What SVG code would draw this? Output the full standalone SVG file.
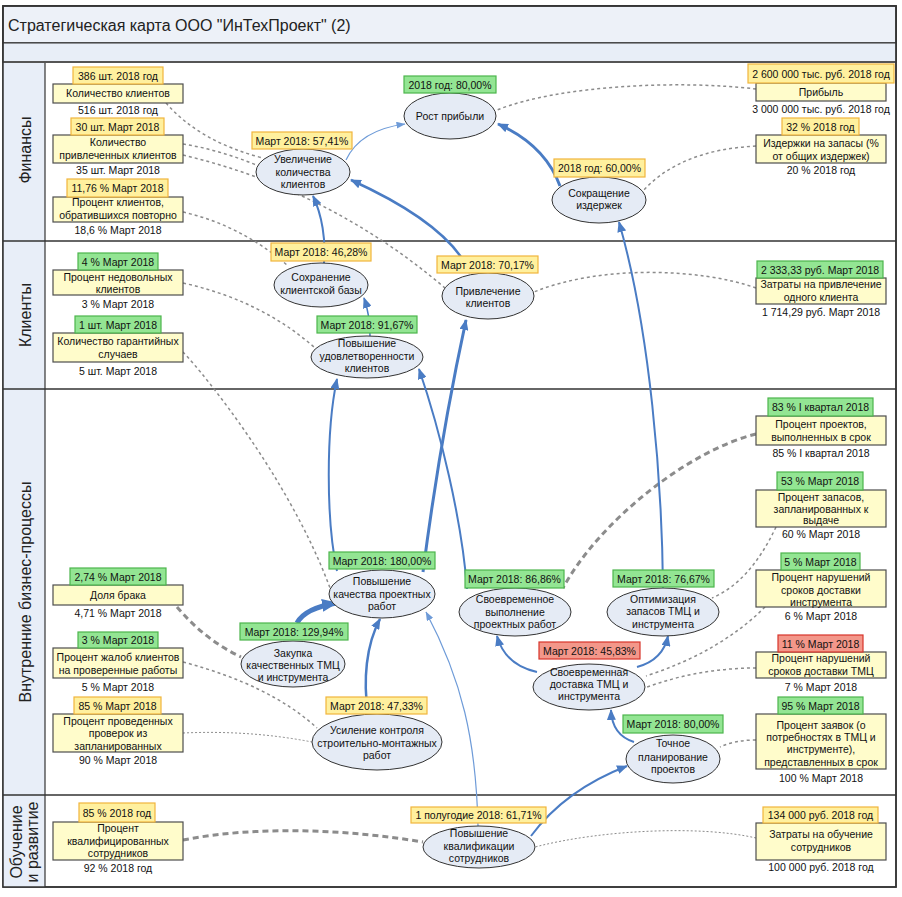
<svg xmlns="http://www.w3.org/2000/svg" width="902" height="897" viewBox="0 0 902 897">
<style>
text{font-family:"Liberation Sans",Arial,sans-serif;fill:#111}
.t{font-size:10.5px;text-anchor:middle}
.lane{font-size:16px;text-anchor:middle;fill:#222}
.el{fill:#E5EBF5;stroke:#333;stroke-width:1}
.box{fill:#FFFCCB;stroke:#4D4D4D;stroke-width:1.2}
.ty{fill:#FFF09E;stroke:#F0B53C;stroke-width:1.2}
.tg{fill:#93E593;stroke:#4CB54C;stroke-width:1.2}
.tr{fill:#F3978A;stroke:#D7352B;stroke-width:1.2}
.ar{fill:none;stroke:#4A7CC4}
.dl{fill:none;stroke:#8C8C8C;stroke-width:1.5;stroke-dasharray:3 3}
.dt{fill:none;stroke:#8C8C8C;stroke-width:3;stroke-dasharray:6 4}
.df{fill:none;stroke:#8C8C8C;stroke-width:1;stroke-dasharray:2 2}
</style>
<defs>
<marker id="a" markerUnits="userSpaceOnUse" viewBox="0 0 11 9" markerWidth="11" markerHeight="9" refX="10" refY="4.5" orient="auto"><path d="M0,0 L11,4.5 L0,9 z" fill="#4A7CC4"/></marker>
<marker id="aS" markerUnits="userSpaceOnUse" viewBox="0 0 9 7" markerWidth="9" markerHeight="7" refX="8.5" refY="3.5" orient="auto"><path d="M0,0 L9,3.5 L0,7 z" fill="#6E9BD8"/></marker>
<marker id="aL" markerUnits="userSpaceOnUse" viewBox="0 0 16 13" markerWidth="16" markerHeight="13" refX="15" refY="6.5" orient="auto"><path d="M0,0 L16,6.5 L0,13 z" fill="#4A7CC4"/></marker>
</defs>

<g id="frame">
<rect x="3" y="6" width="893" height="881" fill="#fff" stroke="#333" stroke-width="1.5"/>
<rect x="3" y="6" width="893" height="37" fill="#EDF1F8" stroke="#333" stroke-width="1.5"/>
<rect x="3" y="43" width="893" height="19" fill="#E8EEF7" stroke="#333" stroke-width="1"/>
<rect x="3" y="62" width="42" height="825" fill="#E8EEF8"/>
<line x1="45" y1="62" x2="45" y2="887" stroke="#333" stroke-width="1.2"/>
<line x1="3" y1="62" x2="896" y2="62" stroke="#555" stroke-width="2"/>
<line x1="3" y1="241" x2="896" y2="241" stroke="#333" stroke-width="1.5"/>
<line x1="3" y1="389" x2="896" y2="389" stroke="#333" stroke-width="1.5"/>
<line x1="3" y1="795" x2="896" y2="795" stroke="#333" stroke-width="1.5"/>
<rect x="3" y="6" width="893" height="881" fill="none" stroke="#333" stroke-width="1.5"/>
<text x="8" y="31" style="font-size:16px;fill:#222">Стратегическая карта ООО "ИнТехПроект" (2)</text>
<text class="lane" transform="translate(31,150) rotate(-90)">Финансы</text>
<text class="lane" transform="translate(31,315) rotate(-90)">Клиенты</text>
<text class="lane" transform="translate(31,592) rotate(-90)">Внутренние бизнес-процессы</text>
<text class="lane" transform="translate(22,842) rotate(-90)">Обучение</text>
<text class="lane" transform="translate(38,842) rotate(-90)">и развитие</text>
</g>

<g id="connectors">
<path class="dl" d="M166,103 Q200,142 263,158"/>
<path class="dl" d="M183,144 Q220,150 256,165"/>
<path class="dl" d="M183,155 Q330,190 445,288"/>
<path class="dl" d="M183,212 Q240,225 287,265"/>
<path class="dl" d="M183,283 Q260,300 314,347"/>
<path class="dl" d="M183,352 C205,375 290,480 330,588"/>
<path class="dt" d="M177,607 Q205,640 241,657"/>
<path class="dl" d="M183,662 Q270,685 317,728"/>
<path class="df" d="M183,733 Q250,730 312,742"/>
<path class="dl" d="M756,89 C680,80 560,85 497,110"/>
<path class="dl" d="M756,146 Q680,150 643,191"/>
<path class="dl" d="M756,288 C700,268 600,265 534,292"/>
<path class="dt" d="M756,434 C690,450 600,520 563,588"/>
<path class="dl" d="M776,527 Q750,582 712,598"/>
<path class="dl" d="M765,607 Q720,652 646,676"/>
<path class="dl" d="M756,668 Q700,668 647,687"/>
<path class="dl" d="M756,740 Q735,740 720,747"/>
<path class="dt" d="M183,840 C260,825 350,830 423,842"/>
<path class="df" d="M756,838 C700,825 600,830 535,847"/>

<path class="ar" style="stroke:#6E9BD8;stroke-width:1.2" marker-end="url(#aS)" d="M346,160 Q360,130 405,124"/>
<path class="ar" stroke-width="3" marker-end="url(#a)" d="M560,186 Q545,145 498,124"/>
<path class="ar" stroke-width="2" marker-end="url(#a)" d="M324,263 C326,240 322,215 313,196"/>
<path class="ar" stroke-width="2.5" marker-end="url(#a)" d="M470,273 Q450,225 351,180"/>
<path class="ar" stroke-width="1.5" marker-end="url(#a)" d="M370,336 Q370,315 364,298"/>
<path class="ar" stroke-width="2" marker-end="url(#a)" d="M337,571 C326,520 326,430 337,379"/>
<path class="ar" stroke-width="3" marker-end="url(#a)" d="M423,572 Q440,440 466,320"/>
<path class="ar" stroke-width="2" marker-end="url(#a)" d="M467,589 C462,520 440,430 419,369"/>
<path class="ar" stroke-width="2" marker-end="url(#a)" d="M663,588 C662,480 650,330 619,222"/>
<path class="ar" stroke-width="5" marker-end="url(#aL)" d="M297,623 Q305,608 337,603"/>
<path class="ar" stroke-width="2.5" marker-end="url(#a)" d="M368,714 C363,680 366,645 380,619"/>
<path class="ar" style="stroke:#6E9BD8;stroke-width:1.2" marker-end="url(#aS)" d="M478,826 C476,740 462,680 426,612"/>
<path class="ar" stroke-width="2" marker-end="url(#a)" d="M531,836 Q565,790 627,766"/>
<path class="ar" stroke-width="2" marker-end="url(#a)" d="M634,742 Q612,735 611,710"/>
<path class="ar" stroke-width="2" marker-end="url(#a)" d="M537,672 Q505,665 497,636"/>
<path class="ar" stroke-width="2" marker-end="url(#a)" d="M637,667 Q663,660 668,636"/>
</g>

<g id="n-rost">
<ellipse class="el" cx="450" cy="116" rx="46" ry="23"/>
<text class="t" x="450" y="120">Рост прибыли</text>
<rect class="tg" x="404" y="76" width="92" height="17"/>
<text class="t" x="450" y="88.5">2018 год: 80,00%</text>
</g>
<g id="n-uvel">
<ellipse class="el" cx="303" cy="172" rx="47" ry="23"/>
<text class="t" x="303" y="163">Увеличение</text>
<text class="t" x="303" y="176">количества</text>
<text class="t" x="303" y="188">клиентов</text>
<rect class="ty" x="252" y="132" width="100" height="17"/>
<text class="t" x="302" y="144.5">Март 2018: 57,41%</text>
</g>
<g id="n-sokr">
<ellipse class="el" cx="599" cy="200" rx="47" ry="23"/>
<text class="t" x="599" y="197">Сокращение</text>
<text class="t" x="599" y="209">издержек</text>
<rect class="ty" x="554" y="159" width="91" height="18"/>
<text class="t" x="599.5" y="172">2018 год: 60,00%</text>
</g>
<g id="n-sohr">
<ellipse class="el" cx="321" cy="285" rx="47" ry="22"/>
<text class="t" x="321" y="281">Сохранение</text>
<text class="t" x="321" y="294">клиентской базы</text>
<rect class="ty" x="271" y="243" width="100" height="18"/>
<text class="t" x="321" y="256">Март 2018: 46,28%</text>
</g>
<g id="n-privl">
<ellipse class="el" cx="488" cy="296" rx="46" ry="23"/>
<text class="t" x="488" y="295">Привлечение</text>
<text class="t" x="488" y="307">клиентов</text>
<rect class="ty" x="437" y="256" width="101" height="17"/>
<text class="t" x="487.5" y="268.5">Март 2018: 70,17%</text>
</g>
<g id="n-udovl">
<ellipse class="el" cx="367" cy="357" rx="56" ry="21"/>
<text class="t" x="367" y="347">Повышение</text>
<text class="t" x="367" y="360">удовлетворенности</text>
<text class="t" x="367" y="372">клиентов</text>
<rect class="tg" x="317" y="316" width="100" height="17"/>
<text class="t" x="367" y="328.5">Март 2018: 91,67%</text>
</g>
<g id="n-kach">
<ellipse class="el" cx="382" cy="594" rx="53" ry="24"/>
<text class="t" x="382" y="585">Повышение</text>
<text class="t" x="382" y="598">качества проектных</text>
<text class="t" x="382" y="610">работ</text>
<rect class="tg" x="329" y="552" width="106" height="17"/>
<text class="t" x="382" y="564.5">Март 2018: 180,00%</text>
</g>
<g id="n-zak">
<ellipse class="el" cx="293" cy="664" rx="52" ry="23"/>
<text class="t" x="293" y="657">Закупка</text>
<text class="t" x="293" y="669">качественных ТМЦ</text>
<text class="t" x="293" y="681">и инструмента</text>
<rect class="tg" x="240" y="623" width="108" height="17"/>
<text class="t" x="294" y="635.5">Март 2018: 129,94%</text>
</g>
<g id="n-usil">
<ellipse class="el" cx="377" cy="742" rx="65" ry="28"/>
<text class="t" x="377" y="734">Усиление контроля</text>
<text class="t" x="377" y="747">строительно-монтажных</text>
<text class="t" x="377" y="759">работ</text>
<rect class="ty" x="326" y="697" width="101" height="17"/>
<text class="t" x="376.5" y="709.5">Март 2018: 47,33%</text>
</g>
<g id="n-svoevyp">
<ellipse class="el" cx="515" cy="612" rx="56" ry="24"/>
<text class="t" x="515" y="603">Своевременное</text>
<text class="t" x="515" y="616">выполнение</text>
<text class="t" x="515" y="628">проектных работ</text>
<rect class="tg" x="465" y="570" width="99" height="18"/>
<text class="t" x="514.5" y="583">Март 2018: 86,86%</text>
</g>
<g id="n-optim">
<ellipse class="el" cx="663" cy="612" rx="56" ry="24"/>
<text class="t" x="663" y="603">Оптимизация</text>
<text class="t" x="663" y="615">запасов ТМЦ и</text>
<text class="t" x="663" y="628">инструмента</text>
<rect class="tg" x="613" y="570" width="101" height="17"/>
<text class="t" x="663.5" y="582.5">Март 2018: 76,67%</text>
</g>
<g id="n-dost">
<ellipse class="el" cx="589" cy="687" rx="56" ry="23"/>
<text class="t" x="589" y="676">Своевременная</text>
<text class="t" x="589" y="688">доставка ТМЦ и</text>
<text class="t" x="589" y="700">инструмента</text>
<rect class="tr" x="539" y="642" width="101" height="17"/>
<text class="t" x="589.5" y="654.5">Март 2018: 45,83%</text>
</g>
<g id="n-tochn">
<ellipse class="el" cx="673" cy="759" rx="47" ry="24"/>
<text class="t" x="673" y="747">Точное</text>
<text class="t" x="673" y="761">планирование</text>
<text class="t" x="673" y="773">проектов</text>
<rect class="tg" x="623" y="715" width="100" height="18"/>
<text class="t" x="673" y="728">Март 2018: 80,00%</text>
</g>
<g id="n-kval">
<ellipse class="el" cx="479" cy="847" rx="56" ry="21"/>
<text class="t" x="479" y="837">Повышение</text>
<text class="t" x="479" y="850">квалификации</text>
<text class="t" x="479" y="862">сотрудников</text>
<rect class="ty" x="411" y="807" width="135" height="16"/>
<text class="t" x="478.5" y="819">1 полугодие 2018: 61,71%</text>
</g>

<g id="i-kolkl">
<rect class="box" x="53" y="84" width="130" height="19"/>
<text class="t" x="118" y="97">Количество клиентов</text>
<rect class="ty" x="73" y="67" width="90" height="17"/>
<text class="t" x="118" y="79.5">386 шт. 2018 год</text>
<text class="t" x="118" y="114">516 шт. 2018 год</text>
</g>
<g id="i-privl">
<rect class="box" x="53" y="135" width="130" height="28"/>
<text class="t" x="118" y="146">Количество</text>
<text class="t" x="118" y="159">привлеченных клиентов</text>
<rect class="ty" x="71" y="118" width="93" height="17"/>
<text class="t" x="117.5" y="130.5">30 шт. Март 2018</text>
<text class="t" x="118" y="174">35 шт. Март 2018</text>
</g>
<g id="i-povt">
<rect class="box" x="53" y="197" width="130" height="25"/>
<text class="t" x="118" y="206">Процент клиентов,</text>
<text class="t" x="118" y="219">обратившихся повторно</text>
<rect class="ty" x="67" y="179" width="101" height="18"/>
<text class="t" x="117.5" y="192">11,76 % Март 2018</text>
<text class="t" x="118" y="234">18,6 % Март 2018</text>
</g>
<g id="i-nedov">
<rect class="box" x="53" y="270" width="130" height="25"/>
<text class="t" x="118" y="281">Процент недовольных</text>
<text class="t" x="118" y="293">клиентов</text>
<rect class="tg" x="78" y="253" width="80" height="17"/>
<text class="t" x="118" y="265.5">4 % Март 2018</text>
<text class="t" x="118" y="308">3 % Март 2018</text>
</g>
<g id="i-garant">
<rect class="box" x="53" y="333" width="130" height="29"/>
<text class="t" x="118" y="345">Количество гарантийных</text>
<text class="t" x="118" y="358">случаев</text>
<rect class="tg" x="75" y="316" width="86" height="17"/>
<text class="t" x="118" y="328.5">1 шт. Март 2018</text>
<text class="t" x="118" y="375">5 шт. Март 2018</text>
</g>
<g id="i-brak">
<rect class="box" x="53" y="585" width="130" height="20"/>
<text class="t" x="118" y="599">Доля брака</text>
<rect class="tg" x="70" y="568" width="96" height="17"/>
<text class="t" x="118" y="580.5">2,74 % Март 2018</text>
<text class="t" x="118" y="617">4,71 % Март 2018</text>
</g>
<g id="i-zhalob">
<rect class="box" x="53" y="648" width="130" height="30"/>
<text class="t" x="118" y="661">Процент жалоб клиентов</text>
<text class="t" x="118" y="674">на проверенные работы</text>
<rect class="tg" x="78" y="632" width="80" height="16"/>
<text class="t" x="118" y="644">3 % Март 2018</text>
<text class="t" x="118" y="691">5 % Март 2018</text>
</g>
<g id="i-prov">
<rect class="box" x="53" y="714" width="130" height="38"/>
<text class="t" x="118" y="725">Процент проведенных</text>
<text class="t" x="118" y="737">проверок из</text>
<text class="t" x="118" y="750">запланированных</text>
<rect class="ty" x="74" y="697" width="87" height="17"/>
<text class="t" x="117.5" y="709.5">85 % Март 2018</text>
<text class="t" x="118" y="764">90 % Март 2018</text>
</g>
<g id="i-kvalif">
<rect class="box" x="53" y="822" width="130" height="38"/>
<text class="t" x="118" y="832">Процент</text>
<text class="t" x="118" y="845">квалифицированных</text>
<text class="t" x="118" y="857">сотрудников</text>
<rect class="ty" x="79" y="803" width="76" height="19"/>
<text class="t" x="117" y="816.5">85 % 2018 год</text>
<text class="t" x="118" y="872">92 % 2018 год</text>
</g>
<g id="i-pribyl">
<rect class="box" x="756" y="83" width="130" height="18"/>
<text class="t" x="821" y="96">Прибыль</text>
<rect class="ty" x="748" y="64" width="146" height="19"/>
<text class="t" x="821" y="77.5">2 600 000 тыс. руб. 2018 год</text>
<text class="t" x="821" y="113">3 000 000 тыс. руб. 2018 год</text>
</g>
<g id="i-izd">
<rect class="box" x="756" y="135" width="130" height="28"/>
<text class="t" x="821" y="147">Издержки на запасы (%</text>
<text class="t" x="821" y="160">от общих издержек)</text>
<rect class="ty" x="782" y="118" width="77" height="17"/>
<text class="t" x="820.5" y="130.5">32 % 2018 год</text>
<text class="t" x="821" y="174">20 % 2018 год</text>
</g>
<g id="i-zatr">
<rect class="box" x="756" y="278" width="130" height="26"/>
<text class="t" x="821" y="288">Затраты на привлечение</text>
<text class="t" x="821" y="301">одного клиента</text>
<rect class="tg" x="757" y="261" width="126" height="17"/>
<text class="t" x="820" y="273.5">2 333,33 руб. Март 2018</text>
<text class="t" x="821" y="316">1 714,29 руб. Март 2018</text>
</g>
<g id="i-srok">
<rect class="box" x="756" y="416" width="130" height="29"/>
<text class="t" x="821" y="428">Процент проектов,</text>
<text class="t" x="821" y="441">выполненных в срок</text>
<rect class="tg" x="768" y="398" width="105" height="18"/>
<text class="t" x="820.5" y="411">83 % I квартал 2018</text>
<text class="t" x="821" y="457">85 % I квартал 2018</text>
</g>
<g id="i-zapas">
<rect class="box" x="756" y="490" width="130" height="37"/>
<text class="t" x="821" y="501">Процент запасов,</text>
<text class="t" x="821" y="513">запланированных к</text>
<text class="t" x="821" y="524">выдаче</text>
<rect class="tg" x="777" y="472" width="86" height="18"/>
<text class="t" x="820" y="485">53 % Март 2018</text>
<text class="t" x="821" y="538">60 % Март 2018</text>
</g>
<g id="i-narinstr">
<rect class="box" x="756" y="570" width="130" height="37"/>
<text class="t" x="821" y="581">Процент нарушений</text>
<text class="t" x="821" y="594">сроков доставки</text>
<text class="t" x="821" y="606">инструмента</text>
<rect class="tg" x="781" y="553" width="79" height="17"/>
<text class="t" x="820.5" y="565.5">5 % Март 2018</text>
<text class="t" x="821" y="620">6 % Март 2018</text>
</g>
<g id="i-nartmc">
<rect class="box" x="756" y="652" width="130" height="26"/>
<text class="t" x="821" y="662">Процент нарушений</text>
<text class="t" x="821" y="675">сроков доставки ТМЦ</text>
<rect class="tr" x="778" y="635" width="85" height="17"/>
<text class="t" x="820.5" y="647.5">11 % Март 2018</text>
<text class="t" x="821" y="691">7 % Март 2018</text>
</g>
<g id="i-zayav">
<rect class="box" x="756" y="714" width="130" height="55"/>
<text class="t" x="821" y="729">Процент заявок (о</text>
<text class="t" x="821" y="741">потребностях в ТМЦ и</text>
<text class="t" x="821" y="753">инструменте),</text>
<text class="t" x="821" y="766">представленных в срок</text>
<rect class="tg" x="778" y="697" width="85" height="17"/>
<text class="t" x="820.5" y="709.5">95 % Март 2018</text>
<text class="t" x="821" y="782">100 % Март 2018</text>
</g>
<g id="i-obuch">
<rect class="box" x="756" y="823" width="130" height="37"/>
<text class="t" x="821" y="838">Затраты на обучение</text>
<text class="t" x="821" y="851">сотрудников</text>
<rect class="ty" x="763" y="807" width="115" height="16"/>
<text class="t" x="820.5" y="819">134 000 руб. 2018 год</text>
<text class="t" x="821" y="871">100 000 руб. 2018 год</text>
</g>
</svg>
